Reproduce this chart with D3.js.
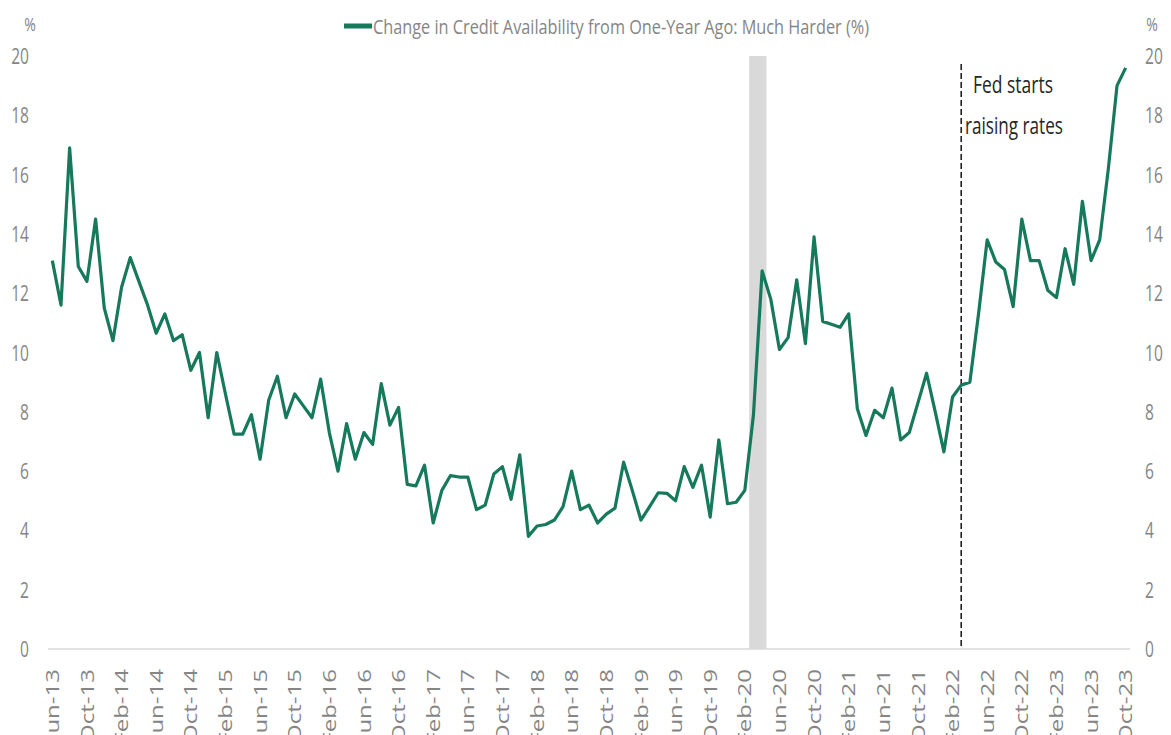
<!DOCTYPE html>
<html>
<head>
<meta charset="utf-8">
<script src="https://cdn.jsdelivr.net/npm/d3@7"></script>
<style>
  html, body { margin: 0; padding: 0; background: #fff; }
  svg { display: block; }
  text { font-family: "Open Sans", "Noto Sans", sans-serif; }
</style>
</head>
<body>
<svg id="chart" width="1171" height="735"></svg>
<script>
// ---- data ----
const startMonth = "2013-06";
const endMonth = "2023-10";
const seriesName = "Change in Credit Availability from One-Year Ago: Much Harder (%)";
const muchHarder = [
  13.1, 11.6, 16.9, 12.9, 12.4, 14.5, 11.5, 10.4, 12.2, 13.2,
  12.4, 11.6, 10.65, 11.3, 10.4, 10.6, 9.4, 10.0, 7.8, 10.0,
  8.6, 7.25, 7.25, 7.9, 6.4, 8.4, 9.2, 7.8, 8.6, 8.2,
  7.8, 9.1, 7.3, 6.0, 7.6, 6.4, 7.3, 6.9, 8.95, 7.55,
  8.15, 5.55, 5.5, 6.2, 4.25, 5.35, 5.85, 5.8, 5.8, 4.7,
  4.85, 5.9, 6.15, 5.05, 6.55, 3.8, 4.15, 4.2, 4.35, 4.8,
  6.0, 4.7, 4.85, 4.25, 4.55, 4.75, 6.3, 5.35, 4.35, 4.8,
  5.27, 5.25, 5.0, 6.15, 5.45, 6.2, 4.45, 7.05, 4.9, 4.95,
  5.35, 7.9, 12.75, 11.8, 10.1, 10.5, 12.45, 10.3, 13.9, 11.05,
  10.95, 10.85, 11.3, 8.1, 7.2, 8.05, 7.8, 8.8, 7.05, 7.3,
  8.3, 9.3, 8.0, 6.65, 8.5, 8.9, 9.0, 11.3, 13.8, 13.05,
  12.8, 11.55, 14.5, 13.1, 13.1, 12.1, 11.85, 13.5, 12.3, 15.1,
  13.1, 13.8, 16.2, 19.0, 19.6
];
const tickLabels = ["Jun-13","Oct-13","Feb-14","Jun-14","Oct-14","Feb-15","Jun-15","Oct-15",
  "Feb-16","Jun-16","Oct-16","Feb-17","Jun-17","Oct-17","Feb-18","Jun-18","Oct-18",
  "Feb-19","Jun-19","Oct-19","Feb-20","Jun-20","Oct-20","Feb-21","Jun-21","Oct-21",
  "Feb-22","Jun-22","Oct-22","Feb-23","Jun-23","Oct-23"];
const yTicks = [0, 2, 4, 6, 8, 10, 12, 14, 16, 18, 20];
const recessionMonths = ["Mar-20", "Apr-20"];
const fedMonth = "Mar-22";
const fedText = ["Fed starts", "raising rates"];

// ---- categories ----
const fmt = d3.timeFormat("%b-%y");
const parse = d3.timeParse("%Y-%m");
const months = d3.timeMonth.range(parse(startMonth), d3.timeMonth.offset(parse(endMonth), 1)).map(fmt);
const data = months.map((m, i) => ({ m, v: muchHarder[i] }));

// ---- layout ----
const svg = d3.select("#chart");
const plot = { left: 48, right: 1130, top: 56, bottom: 649 };
const x = d3.scaleBand().domain(months).range([plot.left, plot.right]).paddingInner(0).paddingOuter(0);
const cx = m => x(m) + x.bandwidth() / 2;
const y = d3.scaleLinear().domain([0, 20]).range([plot.bottom, plot.top]);

const grey = "#858585";
const green = "#16795c";
const SX = 0.74;

// recession shading
svg.append("rect")
  .attr("x", x(recessionMonths[0]))
  .attr("width", x(recessionMonths[recessionMonths.length - 1]) + x.bandwidth() - x(recessionMonths[0]))
  .attr("y", y(20))
  .attr("height", y(0) - y(20))
  .attr("fill", "#d9d9d9");

// baseline
svg.append("line")
  .attr("x1", plot.left).attr("x2", plot.right)
  .attr("y1", y(0)).attr("y2", y(0))
  .attr("stroke", "#d9d9d9").attr("stroke-width", 1.5);

// left axis
const yl = svg.append("g").attr("transform", `translate(29,0)`)
  .call(d3.axisLeft(y).tickValues(yTicks).tickSize(0).tickPadding(0));
yl.select(".domain").remove();
yl.selectAll("text")
  .attr("x", null).attr("dy", "0.36em")
  .attr("transform", `scale(${SX},1)`)
  .attr("text-anchor", "end")
  .attr("fill", grey).style("font-size", "21px");

// right axis
const yr = svg.append("g").attr("transform", `translate(1145,0)`)
  .call(d3.axisRight(y).tickValues(yTicks).tickSize(0).tickPadding(0));
yr.select(".domain").remove();
yr.selectAll("text")
  .attr("x", null).attr("dy", "0.36em")
  .attr("transform", `scale(${SX},1)`)
  .attr("text-anchor", "start")
  .attr("fill", grey).style("font-size", "21px");

// % unit labels
[30, 1152].forEach(px => {
  svg.append("text")
    .attr("transform", `translate(${px},31) scale(${SX},1)`)
    .attr("text-anchor", "middle")
    .attr("fill", grey).style("font-size", "19px")
    .text("%");
});

// x axis labels
const xa = svg.append("g").attr("transform", `translate(0,${plot.bottom})`)
  .call(d3.axisBottom(x).tickValues(tickLabels).tickSize(0).tickPadding(0));
xa.select(".domain").remove();
xa.selectAll("text")
  .attr("y", null).attr("dy", null)
  .attr("transform", "translate(0,20) scale(0.72,1) rotate(-90)")
  .attr("text-anchor", "end")
  .attr("dominant-baseline", "central")
  .attr("fill", grey).style("font-size", "24px");

// Fed dashed line
svg.append("line")
  .attr("x1", cx(fedMonth)).attr("x2", cx(fedMonth))
  .attr("y1", 64).attr("y2", y(0))
  .attr("stroke", "#222").attr("stroke-width", 1.6)
  .attr("stroke-dasharray", "6,3");

// annotation
svg.append("text")
  .attr("x", 1013).attr("y", 93)
  .attr("text-anchor", "middle")
  .attr("textLength", 80).attr("lengthAdjust", "spacingAndGlyphs")
  .attr("fill", "#262626").style("font-size", "24px")
  .text(fedText[0]);
svg.append("text")
  .attr("x", 1014).attr("y", 134)
  .attr("text-anchor", "middle")
  .attr("textLength", 98).attr("lengthAdjust", "spacingAndGlyphs")
  .attr("fill", "#262626").style("font-size", "24px")
  .text(fedText[1]);

// line
svg.append("path")
  .datum(data)
  .attr("fill", "none")
  .attr("stroke", green)
  .attr("stroke-width", 3.2)
  .attr("stroke-linejoin", "round")
  .attr("d", d3.line().x(d => cx(d.m)).y(d => y(d.v)));

// legend
svg.append("line")
  .attr("x1", 344).attr("x2", 372).attr("y1", 26).attr("y2", 26)
  .attr("stroke", green).attr("stroke-width", 5);
svg.append("text")
  .attr("x", 373).attr("y", 34)
  .attr("textLength", 496).attr("lengthAdjust", "spacingAndGlyphs")
  .attr("fill", grey).style("font-size", "20px")
  .text(seriesName);
</script>
</body>
</html>
